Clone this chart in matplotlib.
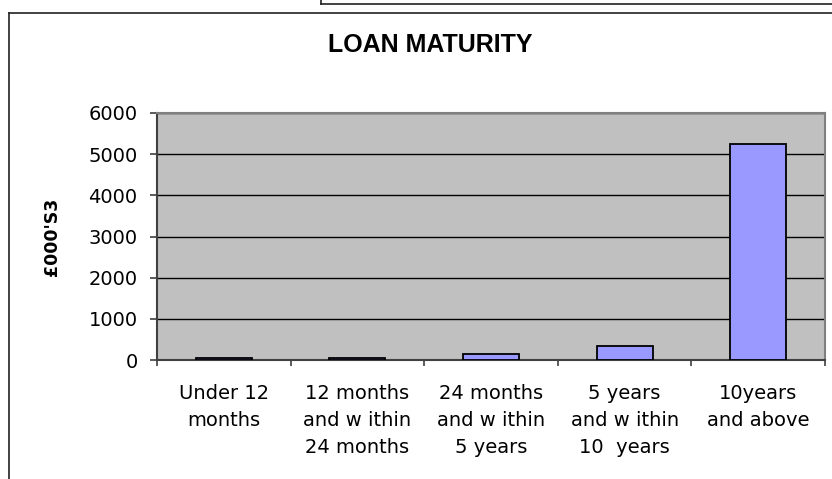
import matplotlib

matplotlib.use("Agg")
import matplotlib.pyplot as plt
from matplotlib.lines import Line2D

# chart data
categories = [
    "Under 12\nmonths",
    "12 months\nand w ithin\n24 months",
    "24 months\nand w ithin\n5 years",
    "5 years\nand w ithin\n10  years",
    "10years\nand above",
]
values = [45, 40, 145, 340, 5240]
y_ticks = [0, 1000, 2000, 3000, 4000, 5000, 6000]

W, H = 832, 479
fig = plt.figure(figsize=(W / 100, H / 100), dpi=100)
ax = fig.add_axes([157 / W, 1 - 360 / H, (825 - 157) / W, (360 - 113) / H])

ax.set_facecolor("#C0C0C0")
x = list(range(len(categories)))
ax.bar(x, values, width=0.42, color="#9999FF", edgecolor="black", linewidth=1.3, zorder=3)

ax.set_xlim(-0.5, len(categories) - 0.5)
ax.set_ylim(0, 6000)
ax.set_yticks(y_ticks)
ax.set_yticklabels([str(v) for v in y_ticks], fontsize=14, family="DejaVu Sans")
ax.yaxis.grid(True, color="black", linewidth=1.0, zorder=1)
ax.set_axisbelow(True)

# category labels sit between boundary ticks
ax.set_xticks([i - 0.5 for i in range(len(categories) + 1)])
ax.set_xticklabels([])
ax.set_xticks(x, minor=True)
ax.set_xticklabels(categories, minor=True, fontsize=14, family="DejaVu Sans", linespacing=1.55)
ax.tick_params(axis="x", which="minor", length=0, pad=17)
ax.tick_params(axis="x", which="major", length=4, width=1.2, color="#404040", direction="out")
ax.tick_params(axis="y", length=5, width=1.2, color="#404040", pad=9)

for side in ["top", "right"]:
    ax.spines[side].set_color("#808080")
    ax.spines[side].set_linewidth(1.5)
ax.spines["left"].set_color("#404040")
ax.spines["left"].set_linewidth(1.5)
ax.spines["bottom"].set_color("#404040")
ax.spines["bottom"].set_linewidth(1.5)

ax.set_ylabel("£000'S3", fontsize=12.5, fontweight="bold", family="DejaVu Sans")
ax.yaxis.set_label_coords(-0.1437, 0.5)

fig.text(430 / W, 1 - 51.7 / H, "LOAN MATURITY", ha="center", va="baseline",
         fontsize=18, fontweight="bold", family="Liberation Sans")

# surrounding chart frames
frame = dict(color="#222222", linewidth=1.2, transform=fig.transFigure)
fig.add_artist(Line2D([9 / W, 9 / W], [0, 1 - 13 / H], **frame))
fig.add_artist(Line2D([9 / W, 1], [1 - 13 / H, 1 - 13 / H], **frame))
fig.add_artist(Line2D([321 / W, 321 / W], [1 - 4 / H, 1], **frame))
fig.add_artist(Line2D([321 / W, 1], [1 - 4 / H, 1 - 4 / H], **frame))

fig.savefig("out.png", dpi=100)
